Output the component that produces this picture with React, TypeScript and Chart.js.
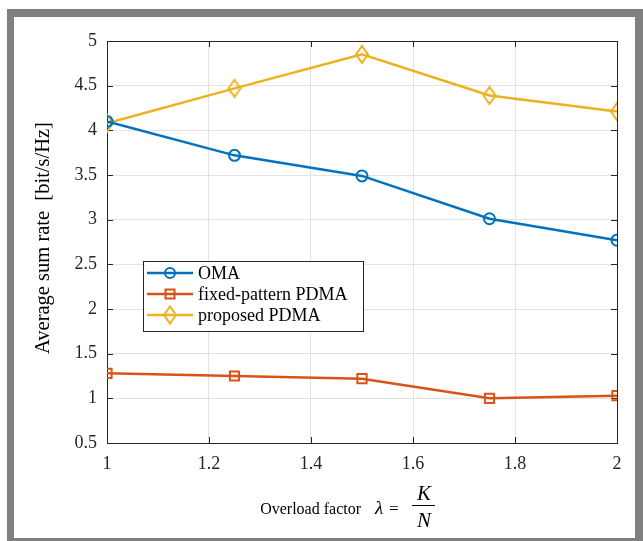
import React, { useEffect, useRef } from 'react';
import { Chart, registerables } from 'chart.js';

Chart.register(...registerables);

const xValues = [1, 1.25, 1.5, 1.75, 2];
const omaRates = [4.1, 3.72, 3.49, 3.01, 2.77];
const fixedRates = [1.28, 1.25, 1.22, 1.0, 1.03];
const proposedRates = [4.08, 4.47, 4.85, 4.39, 4.21];
const seriesLabels = ['OMA', 'fixed-pattern PDMA', 'proposed PDMA'];
const seriesColors = ['#0072BD', '#D95319', '#EDB120'];
const xTicks = [1, 1.2, 1.4, 1.6, 1.8, 2];
const yTicks = [0.5, 1, 1.5, 2, 2.5, 3, 3.5, 4, 4.5, 5];
const yTitle = 'Average sum rate  [bit/s/Hz]';
const xTitleText = 'Overload factor';

const SERIF = '"Liberation Serif", "Times New Roman", serif';
const AXIS = '#262626';

function makeDiamond(color: string): HTMLCanvasElement {
  const c = document.createElement('canvas');
  c.width = 16;
  c.height = 21;
  const ctx = c.getContext('2d')!;
  ctx.strokeStyle = color;
  ctx.lineWidth = 2;
  ctx.beginPath();
  ctx.moveTo(8, 2);
  ctx.lineTo(14, 10.5);
  ctx.lineTo(8, 19);
  ctx.lineTo(2, 10.5);
  ctx.closePath();
  ctx.stroke();
  return c;
}

export default function App() {
  const ref = useRef<HTMLCanvasElement | null>(null);

  useEffect(() => {
    if (!ref.current) return;
    const diamond = makeDiamond(seriesColors[2]);
    const seriesValues = [omaRates, fixedRates, proposedRates];
    const styles: any[] = ['circle', 'rect', diamond];
    const radii = [5.5, 6.5, 7];

    const datasets = seriesValues.map((vals, i) => ({
      label: seriesLabels[i],
      data: xValues.map((x, j) => ({ x, y: vals[j] })),
      borderColor: seriesColors[i],
      backgroundColor: 'transparent',
      borderWidth: 2.5,
      pointStyle: styles[i],
      pointRadius: radii[i],
      pointBorderWidth: 2,
      pointBorderColor: seriesColors[i],
      pointBackgroundColor: 'transparent',
      tension: 0,
    }));

    const frame = {
      id: 'frame',
      beforeDatasetsDraw(chart: any) {
        const { ctx, chartArea: a, scales } = chart;
        ctx.save();
        ctx.strokeStyle = AXIS;
        ctx.lineWidth = 1;
        ctx.strokeRect(Math.round(a.left) + 0.5, Math.round(a.top) + 0.5, Math.round(a.right - a.left), Math.round(a.bottom - a.top));
        const tl = 6;
        ctx.beginPath();
        xTicks.forEach((t) => {
          const px = Math.round(scales.x.getPixelForValue(t)) + 0.5;
          ctx.moveTo(px, a.bottom);
          ctx.lineTo(px, a.bottom - tl);
          ctx.moveTo(px, a.top);
          ctx.lineTo(px, a.top + tl);
        });
        yTicks.forEach((t) => {
          const py = Math.round(scales.y.getPixelForValue(t)) + 0.5;
          ctx.moveTo(a.left, py);
          ctx.lineTo(a.left + tl, py);
          ctx.moveTo(a.right, py);
          ctx.lineTo(a.right - tl, py);
        });
        ctx.stroke();
        ctx.restore();
      },
      afterDraw(chart: any) {
        const { ctx } = chart;
        ctx.save();
        // legend
        const bx = 143, by = 261, bw = 220, bh = 70;
        ctx.fillStyle = '#ffffff';
        ctx.fillRect(bx, by, bw, bh);
        ctx.strokeStyle = AXIS;
        ctx.lineWidth = 1;
        ctx.strokeRect(bx + 0.5, by + 0.5, bw, bh);
        const rows = [273, 294, 315];
        chart.data.datasets.forEach((ds: any, i: number) => {
          const y = rows[i];
          ctx.strokeStyle = ds.borderColor;
          ctx.lineWidth = 2.5;
          ctx.beginPath();
          ctx.moveTo(147, y);
          ctx.lineTo(193, y);
          ctx.stroke();
          ctx.lineWidth = 2;
          const mx = 170;
          if (i === 0) {
            ctx.beginPath();
            ctx.arc(mx, y, 5, 0, Math.PI * 2);
            ctx.stroke();
          } else if (i === 1) {
            ctx.strokeRect(mx - 4.5, y - 4.5, 9, 9);
          } else {
            ctx.drawImage(diamond, mx - diamond.width / 2, y - diamond.height / 2);
          }
          ctx.fillStyle = '#000000';
          ctx.font = `18px ${SERIF}`;
          ctx.textAlign = 'left';
          ctx.textBaseline = 'middle';
          ctx.fillText(ds.label, 198, y + 1);
        });
        // y title
        ctx.save();
        ctx.translate(49, 238);
        ctx.rotate(-Math.PI / 2);
        ctx.fillStyle = '#000000';
        ctx.font = `20.5px ${SERIF}`;
        ctx.textAlign = 'center';
        ctx.textBaseline = 'alphabetic';
        ctx.fillText(yTitle, 0, 0);
        ctx.restore();
        // x title
        ctx.fillStyle = '#000000';
        ctx.textBaseline = 'alphabetic';
        ctx.font = `16px ${SERIF}`;
        ctx.textAlign = 'right';
        ctx.fillText(xTitleText, 361, 514);
        ctx.font = `italic 19px ${SERIF}`;
        ctx.textAlign = 'left';
        ctx.fillText('\u03BB', 375, 514);
        ctx.font = `17px ${SERIF}`;
        ctx.fillText('=', 389, 514);
        ctx.font = `italic 21px ${SERIF}`;
        ctx.textAlign = 'center';
        ctx.fillText('K', 424, 500);
        ctx.fillText('N', 424, 527);
        ctx.fillRect(412, 505, 23, 1);
        ctx.restore();
      },
    };

    const chart = new Chart(ref.current, {
      type: 'line',
      data: { datasets },
      options: {
        animation: false,
        responsive: false,
        maintainAspectRatio: false,
        layout: { padding: { top: 41, right: 26, left: 0, bottom: 0 } },
        plugins: { legend: { display: false }, tooltip: { enabled: false } },
        scales: {
          x: {
            type: 'linear',
            min: 1,
            max: 2,
            afterFit: (s: any) => { s.height = 98; },
            afterBuildTicks: (s: any) => { s.ticks = xTicks.map((v) => ({ value: v })); },
            ticks: {
              padding: 10,
              color: '#262626',
              font: { family: SERIF, size: 18 },
              callback: (v: any) => String(Math.round(Number(v) * 10) / 10),
            },
            grid: { color: '#e3e3e3', drawTicks: false },
            border: { display: false },
          },
          y: {
            type: 'linear',
            min: 0.5,
            max: 5,
            afterFit: (s: any) => { s.width = 107; },
            afterBuildTicks: (s: any) => { s.ticks = yTicks.map((v) => ({ value: v })); },
            ticks: {
              padding: 10,
              color: '#262626',
              font: { family: SERIF, size: 18 },
              callback: (v: any) => String(v),
            },
            grid: { color: '#e3e3e3', drawTicks: false },
            border: { display: false },
          },
        },
      },
      plugins: [frame],
    });
    return () => chart.destroy();
  }, []);

  return (
    <div style={{ position: 'fixed', left: 0, top: 0, width: 643, height: 541, background: '#ffffff' }}>
      <div style={{ position: 'absolute', left: 7, top: 9, width: 636, height: 532, background: '#808080' }} />
      <div style={{ position: 'absolute', left: 14, top: 17, width: 621, height: 521, background: '#ffffff' }} />
      <canvas ref={ref} width={643} height={541} style={{ position: 'absolute', left: 0, top: 0, width: 643, height: 541 }} />
    </div>
  );
}
